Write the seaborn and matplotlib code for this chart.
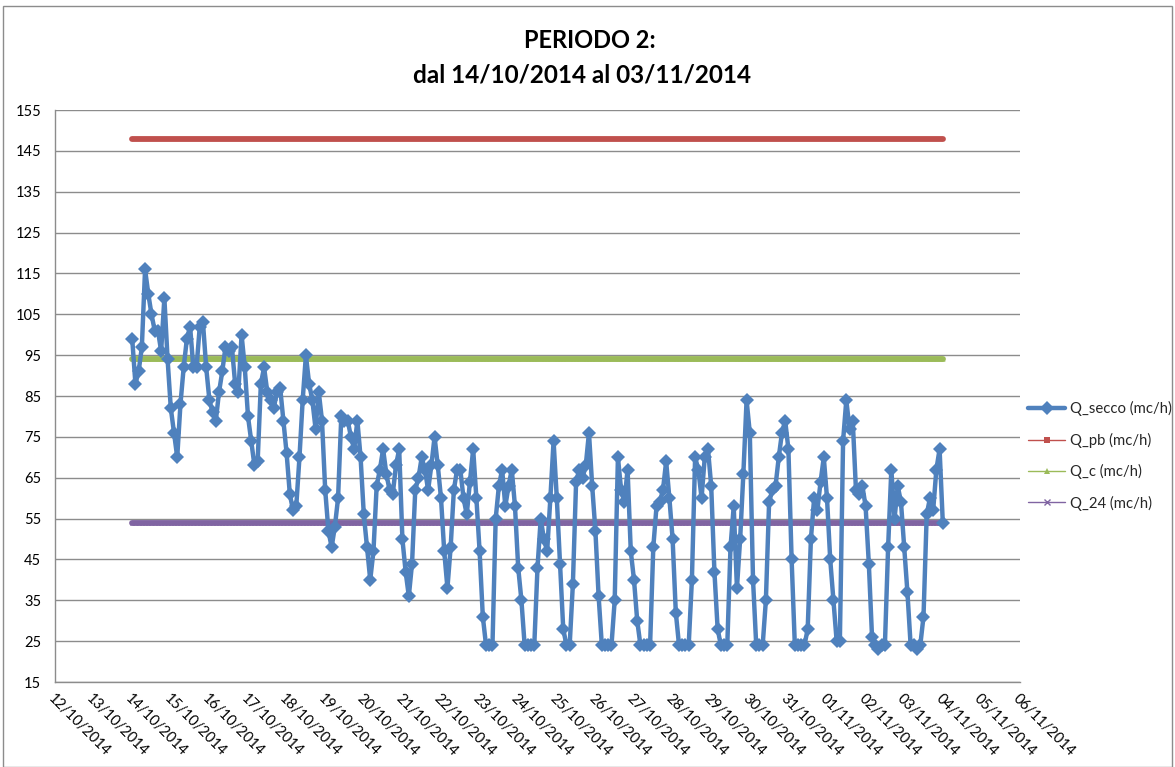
import numpy as np
import pandas as pd
import matplotlib
matplotlib.use("Agg")
import matplotlib.pyplot as plt
import matplotlib.dates as mdates
from matplotlib.patches import Rectangle
from matplotlib.lines import Line2D
import seaborn as sns

# ---- data (2-hourly readings, 14/10/2014 00:00 -> 04/11/2014 00:00) ----
start_time = "2014-10-14 00:00"
step = "2h"
d14 = [99, 88, 91, 97, 116, 110, 105, 101, 101, 96, 109, 94]
d15 = [82, 76, 70, 83, 92, 99, 102, 92, 92, 102, 103, 92]
d16 = [84, 81, 79, 86, 91, 97, 96, 97, 88, 86, 100, 92]
d17 = [80, 74, 68, 69, 88, 92, 86, 84, 82, 86, 87, 79]
d18 = [71, 61, 57, 58, 70, 84, 95, 88, 84, 77, 86, 79]
d19 = [62, 52, 48, 53, 60, 80, 79, 79, 75, 72, 79, 70]
d20 = [56, 48, 40, 47, 63, 67, 72, 66, 62, 61, 68, 72]
d21 = [50, 42, 36, 44, 62, 65, 70, 67, 62, 68, 75, 68]
d22 = [60, 47, 38, 48, 62, 67, 67, 60, 56, 64, 72, 60]
d23 = [47, 31, 24, 24, 24, 55, 63, 67, 58, 63, 67, 58]
d24 = [43, 35, 24, 24, 24, 24, 43, 55, 50, 47, 60, 74]
d25 = [60, 44, 28, 24, 24, 39, 64, 67, 65, 68, 76, 63]
d26 = [52, 36, 24, 24, 24, 24, 35, 70, 62, 59, 67, 47]
d27 = [40, 30, 24, 24, 24, 24, 48, 58, 59, 62, 69, 60]
d28 = [50, 32, 24, 24, 24, 24, 40, 70, 67, 60, 70, 72]
d29 = [63, 42, 28, 24, 24, 24, 48, 58, 38, 50, 66, 84]
d30 = [76, 40, 24, 24, 24, 35, 59, 62, 63, 70, 76, 79]
d31 = [72, 45, 24, 24, 24, 24, 28, 50, 60, 57, 64, 70]
d01 = [60, 45, 35, 25, 25, 74, 84, 77, 79, 62, 61, 63]
d02 = [58, 44, 26, 24, 23, 24, 24, 48, 67, 55, 63, 59]
d03 = [48, 37, 24, 24, 23, 24, 31, 56, 60, 57, 67, 72]
last_value = [54]

q_pb_value = 148
q_c_value = 94
q_24_value = 54

series_labels = ["Q_secco (mc/h)", "Q_pb (mc/h)", "Q_c (mc/h)", "Q_24 (mc/h)"]
title_lines = ["PERIODO 2:", "dal 14/10/2014 al 03/11/2014"]
y_ticks = [15, 25, 35, 45, 55, 65, 75, 85, 95, 105, 115, 125, 135, 145, 155]
x_start, x_end = "2014-10-12", "2014-11-06"

q_secco = (d14 + d15 + d16 + d17 + d18 + d19 + d20 + d21 + d22 + d23 + d24
           + d25 + d26 + d27 + d28 + d29 + d30 + d31 + d01 + d02 + d03 + last_value)
times = pd.date_range(start_time, periods=len(q_secco), freq=step)
n = len(times)
df = pd.DataFrame({
    "time": times,
    "Q_secco": q_secco,
    "Q_pb": [q_pb_value] * n,
    "Q_c": [q_c_value] * n,
    "Q_24": [q_24_value] * n,
})

# ---- style ----
sns.set_theme(style="white")
plt.rcParams["font.family"] = ["Lato", "DejaVu Sans"]

W, H, DPI = 1175, 767, 100
fig = plt.figure(figsize=(W / DPI, H / DPI), dpi=DPI)
fig.patch.set_facecolor("white")
ax = fig.add_axes([55 / W, 1 - 682 / H, (1020 - 55) / W, (682 - 110) / H])

colors = {"Q_secco": "#4F81BD", "Q_pb": "#C0504D", "Q_c": "#9BBB59", "Q_24": "#8064A2"}

sns.lineplot(data=df, x="time", y="Q_pb", ax=ax, color=colors["Q_pb"], lw=4.2,
             marker="s", markersize=3, markeredgewidth=0, legend=False, zorder=3)
sns.lineplot(data=df, x="time", y="Q_c", ax=ax, color=colors["Q_c"], lw=4.2,
             marker="^", markersize=3, markeredgewidth=0, legend=False, zorder=3)
sns.lineplot(data=df, x="time", y="Q_24", ax=ax, color=colors["Q_24"], lw=4.2,
             marker="x", markersize=2.5, markeredgewidth=0.8, markeredgecolor=colors["Q_24"],
             legend=False, zorder=3)
sns.lineplot(data=df, x="time", y="Q_secco", ax=ax, color=colors["Q_secco"], lw=3.2,
             marker="D", markersize=7, markeredgewidth=0, legend=False, zorder=4)

ax.set_ylim(15, 155)
ax.set_yticks(y_ticks)
ax.set_xlim(pd.Timestamp(x_start), pd.Timestamp(x_end))
ax.xaxis.set_major_locator(mdates.DayLocator())
ax.xaxis.set_major_formatter(mdates.DateFormatter("%d/%m/%Y"))
ax.set_xlabel("")
ax.set_ylabel("")

ax.grid(axis="y", color="#8c8c8c", lw=1.0)
ax.grid(axis="x", visible=False)
for s in ["top", "right"]:
    ax.spines[s].set_visible(False)
for s in ["left", "bottom"]:
    ax.spines[s].set_color("#8c8c8c")
    ax.spines[s].set_linewidth(1.0)

ax.tick_params(axis="both", which="major", direction="out", length=4, width=1,
               color="#8c8c8c", labelsize=10.5, labelcolor="black", pad=3)
ax.tick_params(axis="y", pad=6)
for lbl in ax.get_xticklabels():
    lbl.set_rotation(-45)
    lbl.set_ha("left")
    lbl.set_va("top")
    lbl.set_rotation_mode("anchor")

# legend (Excel style: thick line for main series, thin lines for constants)
handles = [
    Line2D([], [], color=colors["Q_secco"], lw=3.2, marker="D", markersize=7, markeredgewidth=0),
    Line2D([], [], color=colors["Q_pb"], lw=1.0, marker="s", markersize=5, markeredgewidth=0),
    Line2D([], [], color=colors["Q_c"], lw=1.0, marker="^", markersize=5, markeredgewidth=0),
    Line2D([], [], color=colors["Q_24"], lw=1.0, marker="x", markersize=4, markeredgewidth=1.0),
]
ax.legend(handles, series_labels, loc="center left", bbox_to_anchor=(1022 / W, 1 - 456 / H),
          bbox_transform=fig.transFigure, frameon=False, fontsize=10.7,
          handlelength=2.5, handletextpad=0.3, labelspacing=1.1, borderaxespad=0)

fig.text(590 / W, 1 - 40 / H, title_lines[0], ha="center", va="center",
         fontsize=17, fontweight="bold", color="black")
fig.text(582 / W, 1 - 75 / H, title_lines[1], ha="center", va="center",
         fontsize=17.5, fontweight="bold", color="black")

fig.add_artist(Rectangle((3 / W, 0), 1 - 6 / W, 1 - 6 / H, transform=fig.transFigure,
                         fill=False, edgecolor="#8c8c8c", lw=1.0))

fig.savefig("out.png", dpi=DPI, facecolor="white")
